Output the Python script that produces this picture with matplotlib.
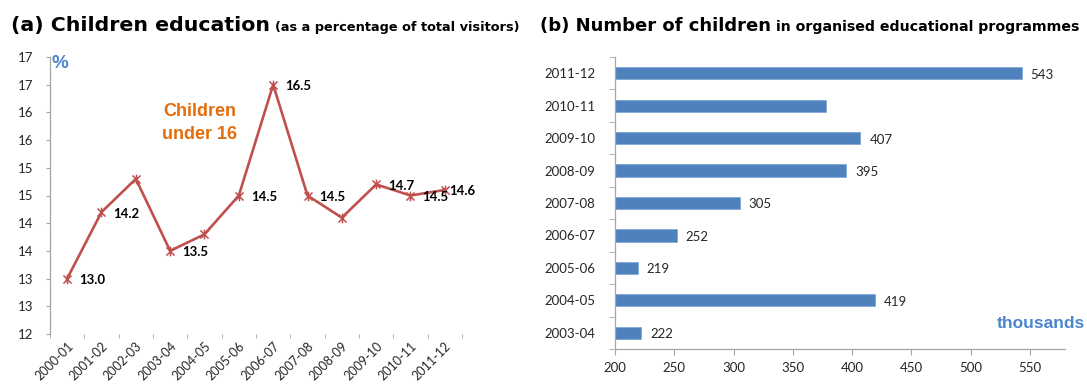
import numpy as np
import matplotlib
matplotlib.use("Agg")
import matplotlib.pyplot as plt
from matplotlib.path import Path
from matplotlib.ticker import FixedLocator, FuncFormatter, MultipleLocator

# ---- data -------------------------------------------------------------
seasons_a = ["2000-01", "2001-02", "2002-03", "2003-04", "2004-05", "2005-06",
             "2006-07", "2007-08", "2008-09", "2009-10", "2010-11", "2011-12"]
share_under16 = [13.0, 14.2, 14.8, 13.5, 13.8, 14.5, 16.5, 14.5, 14.1, 14.7, 14.5, 14.6]
share_labelled = [True, True, False, True, False, True, True, True, False, True, True, True]

seasons_b = ["2003-04", "2004-05", "2005-06", "2006-07", "2007-08",
             "2008-09", "2009-10", "2010-11", "2011-12"]
children_thousands = [222, 419, 219, 252, 305, 395, 407, 378, 543]
count_labelled = [True, True, True, True, True, True, True, False, True]

pct_ticks = [12.0, 12.5, 13.0, 13.5, 14.0, 14.5, 15.0, 15.5, 16.0, 16.5, 17.0]
count_ticks = [200, 250, 300, 350, 400, 450, 500, 550]

# ---- style ------------------------------------------------------------
UI = ["Lato", "DejaVu Sans"]
HEAD = ["DejaVu Sans Condensed", "DejaVu Sans"]
RED = "#c0504d"
BAR = "#4f81bd"
ACCENT = "#4a86d0"
ORANGE = "#e46c0a"
AXIS = "#a6a6a6"
TXT = "#262626"

W, H = 1087, 391
fig = plt.figure(figsize=(W / 100, H / 100), dpi=100)


def box(x0, y0, x1, y1):
    """Axes rectangle from pixel edges (top-left origin)."""
    return [x0 / W, 1 - y1 / H, (x1 - x0) / W, (y1 - y0) / H]


# Excel-style star marker: an X crossed by a vertical stroke
star = Path([(-1, -1), (1, 1), (-1, 1), (1, -1), (0, -1.2), (0, 1.2)],
            [Path.MOVETO, Path.LINETO, Path.MOVETO, Path.LINETO,
             Path.MOVETO, Path.LINETO])

# ---- (a) share of children -------------------------------------------
ax1 = fig.add_axes(box(50, 57, 462, 334))
xa = np.arange(len(seasons_a))
ax1.plot(xa, share_under16, color=RED, lw=1.9, marker=star, ms=7,
         mew=1.1, mec=RED, mfc="none", zorder=3)
for i, (v, show) in enumerate(zip(share_under16, share_labelled)):
    if show:
        dx = 4 if i == len(share_under16) - 1 else 12
        ax1.annotate(f"{v:.1f}", (xa[i], v), xytext=(dx * 0.72, -1),
                     textcoords="offset points", ha="left", va="center",
                     fontsize=9.5, fontweight="bold", color="black",
                     family=UI, zorder=4)

ax1.set_xlim(-0.5, len(seasons_a) - 0.5)
ax1.set_ylim(12, 17)
ax1.yaxis.set_major_locator(FixedLocator(pct_ticks))
ax1.yaxis.set_major_formatter(FuncFormatter(lambda v, _: f"{int(np.floor(v + 0.5))}"))
ax1.set_xticks(xa)
ax1.set_xticklabels(seasons_a, rotation=45, ha="right", va="top",
                    rotation_mode="anchor", family=UI, fontsize=9, color=TXT)
ax1.xaxis.set_minor_locator(MultipleLocator(1, offset=0.5))
ax1.tick_params(axis="x", which="major", length=0, pad=4)
ax1.tick_params(axis="x", which="minor", length=3, color=AXIS, direction="out")
ax1.tick_params(axis="y", length=3, color=AXIS, direction="out", pad=9,
                labelsize=9.5, labelcolor=TXT)
for lbl in ax1.get_yticklabels():
    lbl.set_family(UI)
for s in ("top", "right", "bottom"):
    ax1.spines[s].set_visible(False)
ax1.spines["left"].set_color(AXIS)
ax1.spines["left"].set_linewidth(0.9)

fig.text(51 / W, 1 - 63 / H, "%", color=ACCENT, fontsize=13.5, fontweight="bold",
         family=["Liberation Sans", "DejaVu Sans"], ha="left", va="center")
fig.text(200 / W, 1 - 123 / H, "Children\nunder 16", color=ORANGE, fontsize=13,
         fontweight="bold", family=["Liberation Sans", "DejaVu Sans"],
         ha="center", va="center", linespacing=1.4)

# ---- (b) number of children ------------------------------------------
ax2 = fig.add_axes(box(615, 57, 1065, 349))
yb = np.arange(len(seasons_b))
ax2.barh(yb, [v - 200 for v in children_thousands], left=200, height=0.38,
         color=BAR, edgecolor="#6f9bd1", linewidth=0.4, zorder=2)
for y, v, show in zip(yb, children_thousands, count_labelled):
    if show:
        ax2.annotate(f"{v}", (v, y), xytext=(6.5, -1), textcoords="offset points",
                     ha="left", va="center", fontsize=9.5, color=TXT, family=UI)

ax2.set_xlim(200, 579.5)
ax2.set_ylim(-0.5, len(seasons_b) - 0.5)
ax2.set_xticks(count_ticks)
ax2.set_yticks(yb)
ax2.set_yticklabels(seasons_b)
ax2.yaxis.set_minor_locator(MultipleLocator(1, offset=0.5))
ax2.tick_params(axis="y", which="major", length=0, pad=14, labelsize=9.5, labelcolor=TXT)
ax2.tick_params(axis="y", which="minor", length=4, color=AXIS, direction="out")
ax2.tick_params(axis="x", length=4, color=AXIS, direction="out", pad=5,
                labelsize=9.5, labelcolor=TXT)
for lbl in ax2.get_xticklabels() + ax2.get_yticklabels():
    lbl.set_family(UI)
for s in ("top", "right"):
    ax2.spines[s].set_visible(False)
for s in ("left", "bottom"):
    ax2.spines[s].set_color(AXIS)
    ax2.spines[s].set_linewidth(0.9)

fig.text(1085 / W, 1 - 324 / H, "thousands", color=ACCENT, fontsize=12.5,
         fontweight="bold", family=["Liberation Sans", "DejaVu Sans"],
         ha="right", va="center")

# ---- panel headings: large lead-in followed by a smaller qualifier ----
renderer = fig.canvas.get_renderer()
BASELINE = 1 - 31 / H


def fitted_text(x_px, s, width_px, max_size):
    """Bold heading text sized so that it spans roughly width_px pixels."""
    t = fig.text(x_px / W, BASELINE, s, fontsize=max_size, fontweight="bold",
                 family=HEAD, color="black", ha="left", va="baseline")
    w = t.get_window_extent(renderer=renderer).width
    if w > width_px:
        t.set_fontsize(max_size * width_px / w)
    return t


def heading(x_px, big, big_w, small, small_w):
    t1 = fitted_text(x_px, big, big_w, 18.5)
    x1 = t1.get_window_extent(renderer=renderer).x1
    fitted_text(x1 + 5, small, small_w, 12.5)


heading(11, "(a) Children education", 258, "(as a percentage of total visitors)", 245)
heading(540, "(b) Number of children", 232, "in organised educational programmes", 303)

fig.savefig("out.png", dpi=100, facecolor="white")
